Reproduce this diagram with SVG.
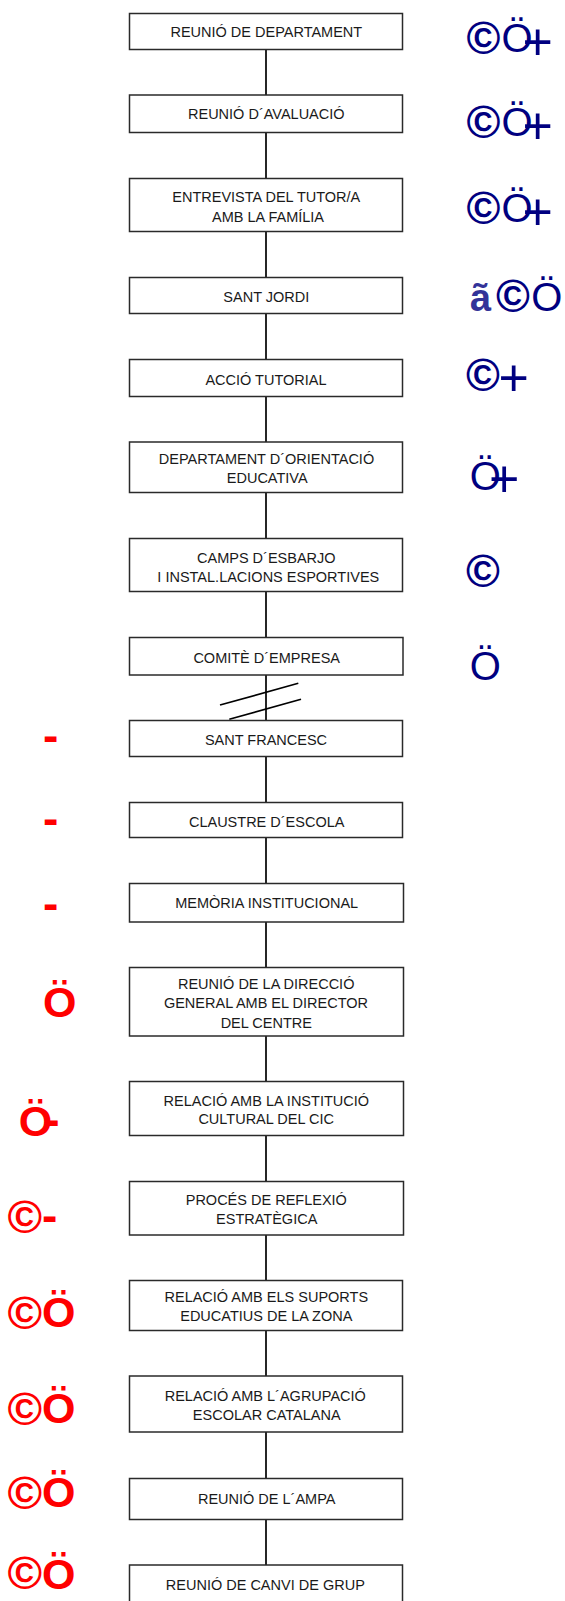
<svg xmlns="http://www.w3.org/2000/svg" width="565" height="1601" viewBox="0 0 565 1601">
<style>
.box{fill:#fff;stroke:#2a2a2a;stroke-width:1.5}
.lbl{font-family:"Liberation Sans",Arial,sans-serif;font-size:14.5px;fill:#1a1a1a;text-anchor:middle}
.con{stroke:#000;stroke-width:1.7;fill:none}
.sb{font-family:"Liberation Sans",Arial,sans-serif;font-size:40px;fill:#000080}
.sc{font-family:"Liberation Sans",Arial,sans-serif;font-size:46px;font-weight:bold;fill:#000080}
.sbp{font-family:"Liberation Sans",Arial,sans-serif;font-size:52px;fill:#000080}
.sa{font-family:"Liberation Sans",Arial,sans-serif;font-size:38px;font-weight:bold;fill:#333399}
.rc{font-family:"Liberation Sans",Arial,sans-serif;font-size:47px;font-weight:bold;fill:#ff0000}
.ro{font-family:"Liberation Sans",Arial,sans-serif;font-size:43px;font-weight:bold;fill:#ff0000}
.rd{font-family:"Liberation Sans",Arial,sans-serif;font-size:46px;font-weight:bold;fill:#ff0000}
</style>
<rect width="565" height="1601" fill="#fff"/>
<g id="connectors">
<line class="con" x1="266" y1="49" x2="266" y2="95"/>
<line class="con" x1="266" y1="132" x2="266" y2="179"/>
<line class="con" x1="266" y1="231" x2="266" y2="278"/>
<line class="con" x1="266" y1="313" x2="266" y2="360"/>
<line class="con" x1="266" y1="396" x2="266" y2="442"/>
<line class="con" x1="266" y1="492" x2="266" y2="539"/>
<line class="con" x1="266" y1="591" x2="266" y2="638"/>
<line class="con" x1="266" y1="675" x2="266" y2="721"/>
<line class="con" x1="220" y1="705" x2="298.3" y2="683.3"/>
<line class="con" x1="229.3" y1="719.3" x2="301" y2="699.3"/>
<line class="con" x1="266" y1="756" x2="266" y2="803"/>
<line class="con" x1="266" y1="837" x2="266" y2="884"/>
<line class="con" x1="266" y1="922" x2="266" y2="968"/>
<line class="con" x1="266" y1="1036" x2="266" y2="1082"/>
<line class="con" x1="266" y1="1135" x2="266" y2="1182"/>
<line class="con" x1="266" y1="1235" x2="266" y2="1281"/>
<line class="con" x1="266" y1="1330" x2="266" y2="1376"/>
<line class="con" x1="266" y1="1432" x2="266" y2="1479"/>
<line class="con" x1="266" y1="1519" x2="266" y2="1565"/>
</g>
<g id="n1"><rect class="box" x="129.5" y="13.5" width="273" height="36"/><text class="lbl" x="266.3" y="37.3">REUNIÓ DE DEPARTAMENT</text></g>
<g id="n2"><rect class="box" x="129.5" y="95" width="273" height="37.5"/><text class="lbl" x="266.3" y="119.3">REUNIÓ D´AVALUACIÓ</text></g>
<g id="n3"><rect class="box" x="129.5" y="178.5" width="273" height="53"/><text class="lbl" x="266.3" y="202.3">ENTREVISTA DEL TUTOR/A</text><text class="lbl" x="268" y="221.7">AMB LA FAMÍLIA</text></g>
<g id="n4"><rect class="box" x="129.5" y="277.5" width="273" height="36"/><text class="lbl" x="266.3" y="301.7">SANT JORDI</text></g>
<g id="n5"><rect class="box" x="129.5" y="359.5" width="273" height="37"/><text class="lbl" x="266" y="384.5">ACCIÓ TUTORIAL</text></g>
<g id="n6"><rect class="box" x="129.5" y="442" width="273" height="50.5"/><text class="lbl" x="266.5" y="464">DEPARTAMENT D´ORIENTACIÓ</text><text class="lbl" x="267.2" y="483.3">EDUCATIVA</text></g>
<g id="n7"><rect class="box" x="129.5" y="538.5" width="273" height="53"/><text class="lbl" x="266.3" y="562.7">CAMPS D´ESBARJO</text><text class="lbl" x="268.3" y="581.7">I INSTAL.LACIONS ESPORTIVES</text></g>
<g id="n8"><rect class="box" x="129.5" y="637.5" width="273.5" height="37.5"/><text class="lbl" x="266.7" y="663">COMITÈ D´EMPRESA</text></g>
<g id="n9"><rect class="box" x="129.5" y="720.5" width="273" height="36"/><text class="lbl" x="266" y="745">SANT FRANCESC</text></g>
<g id="n10"><rect class="box" x="129.5" y="802.5" width="273" height="35"/><text class="lbl" x="266.7" y="827">CLAUSTRE D´ESCOLA</text></g>
<g id="n11"><rect class="box" x="129.5" y="883.5" width="274" height="38.5"/><text class="lbl" x="266.7" y="908.3">MEMÒRIA INSTITUCIONAL</text></g>
<g id="n12"><rect class="box" x="129.5" y="967.5" width="274" height="68.5"/><text class="lbl" x="266.2" y="989">REUNIÓ DE LA DIRECCIÓ</text><text class="lbl" x="266" y="1008.3">GENERAL AMB EL DIRECTOR</text><text class="lbl" x="266.3" y="1027.6">DEL CENTRE</text></g>
<g id="n13"><rect class="box" x="129.5" y="1081.5" width="274" height="54"/><text class="lbl" x="266.3" y="1106">RELACIÓ AMB LA INSTITUCIÓ</text><text class="lbl" x="266.2" y="1124.3">CULTURAL DEL CIC</text></g>
<g id="n14"><rect class="box" x="129.5" y="1181.5" width="274" height="53.5"/><text class="lbl" x="266.3" y="1205">PROCÉS DE REFLEXIÓ</text><text class="lbl" x="266.7" y="1224">ESTRATÈGICA</text></g>
<g id="n15"><rect class="box" x="129.5" y="1280.5" width="273" height="50"/><text class="lbl" x="266.3" y="1301.7">RELACIÓ AMB ELS SUPORTS</text><text class="lbl" x="266.3" y="1320.5">EDUCATIUS DE LA ZONA</text></g>
<g id="n16"><rect class="box" x="129.5" y="1376" width="273" height="56"/><text class="lbl" x="265.3" y="1400.7">RELACIÓ AMB L´AGRUPACIÓ</text><text class="lbl" x="266.7" y="1420">ESCOLAR CATALANA</text></g>
<g id="n17"><rect class="box" x="129.5" y="1478.5" width="273" height="41"/><text class="lbl" x="266.7" y="1504.3">REUNIÓ DE L´AMPA</text></g>
<g id="n18"><rect class="box" x="129.5" y="1565" width="273" height="40"/><text class="lbl" x="265.3" y="1590">REUNIÓ DE CANVI DE GRUP</text></g>
<g id="blue-symbols">
<text class="sc" x="466.5" y="54">©</text><text class="sb" x="501.5" y="52">Ö</text><text class="sbp" x="522.4" y="60">+</text>
<text class="sc" x="466.5" y="138">©</text><text class="sb" x="501.5" y="136">Ö</text><text class="sbp" x="522.4" y="144">+</text>
<text class="sc" x="466.5" y="224">©</text><text class="sb" x="501.5" y="222">Ö</text><text class="sbp" x="522.4" y="230">+</text>
<text class="sa" x="470" y="311">ã</text><text class="sc" x="496" y="312">©</text><text class="sb" x="531.3" y="310.5">Ö</text>
<text class="sc" x="466" y="391">©</text><text class="sbp" x="498.4" y="395.8">+</text>
<text class="sb" x="469.7" y="489.5">Ö</text><text class="sbp" x="489.1" y="496.8">+</text>
<text class="sc" x="466" y="586.5">©</text>
<text class="sb" x="469.7" y="680">Ö</text>
</g>
<g id="red-symbols">
<text class="rd" x="43" y="750.5">-</text>
<text class="rd" x="43" y="833.5">-</text>
<text class="rd" x="43" y="918.5">-</text>
<text class="ro" x="43" y="1016.5">Ö</text>
<text class="ro" x="18.7" y="1136">Ö</text><text class="rd" x="44.2" y="1135">-</text>
<text class="rc" x="7.5" y="1233">©</text><text class="rd" x="42" y="1231">-</text>
<text class="rc" x="7.5" y="1329">©</text><text class="ro" x="42" y="1327">Ö</text>
<text class="rc" x="7.5" y="1425">©</text><text class="ro" x="42" y="1423">Ö</text>
<text class="rc" x="7.5" y="1509">©</text><text class="ro" x="42" y="1507">Ö</text>
<text class="rc" x="7.5" y="1589">©</text><text class="ro" x="42" y="1589">Ö</text>
</g>
</svg>
